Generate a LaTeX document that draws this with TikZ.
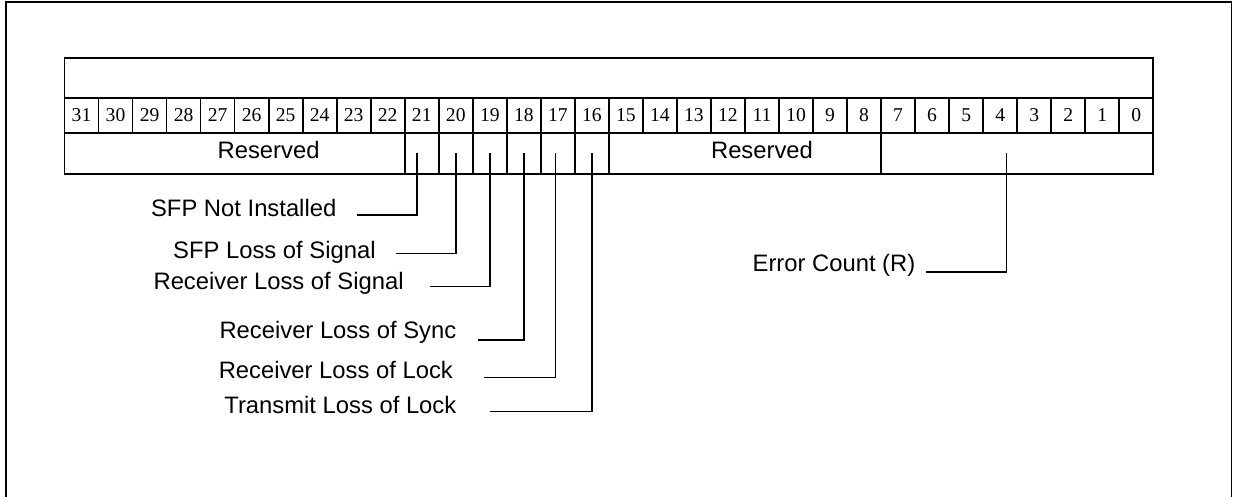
\documentclass[tikz,border=0pt]{standalone}
\usepackage{fontspec}
\setmainfont{Liberation Serif}
\setsansfont{Liberation Sans}
\usetikzlibrary{positioning}

\tikzset{
  regbox/.style={draw,line width=0.85pt,inner sep=0pt},
  bitcell/.style={regbox,minimum width=17.0125pt,minimum height=17.5pt,font=\fontsize{9.8}{10}\selectfont},
  field/.style={regbox,minimum height=20.8pt},
  fname/.style={inner sep=0pt,font=\sffamily\fontsize{11.9}{13}\selectfont},
  lbl/.style={fname,anchor=base east},
  lead/.style={line width=0.75pt},
}

\begin{document}
\begin{tikzpicture}[x=0.5pt,y=-0.5pt]
  \useasboundingbox (0,0) rectangle (1233,497);
  \draw[line width=0.9pt] (5.8,520) |- (1231.5,1.8) -- (1231.5,520);

  \node[regbox,minimum width=544.4pt,minimum height=19.85pt] (hdr) at (608.9,77.85) {};
  \foreach \i in {0,...,31}
    \node[bitcell] (b\i) at ({64.5+(31-\i)*34.025+17.0125},115.2) {\i};

  \node[field,minimum width=170.125pt] (res1) at (234.6,153.5) {};
  \foreach \i in {21,...,16}
    \node[field,minimum width=17.0125pt] (f\i) at ({64.5+(31-\i)*34.025+17.0125},153.5) {};
  \node[field,minimum width=136.1pt] (res2) at (745,153.5) {};
  \node[field,minimum width=136.1pt] (err) at (1017.2,153.5) {};
  \node[fname] (res1t) at ([xshift=17pt,yshift=1.75pt]res1.center) {Reserved};
  \node[fname] (res2t) at ([xshift=8.5pt,yshift=1.75pt]res2.center) {Reserved};

  \node[lbl] (l21) at (336.7,216.7) {SFP Not Installed};
  \node[lbl] (l20) at (376,258.3) {SFP Loss of Signal};
  \node[lbl] (l19) at (404,289.3) {Receiver Loss of Signal};
  \node[lbl] (l18) at (456.7,338.3) {Receiver Loss of Sync};
  \node[lbl] (l17) at (453.3,378.3) {Receiver Loss of Lock};
  \node[lbl] (l16) at (456.7,413.3) {Transmit Loss of Lock};
  \node[lbl] (lerr) at (915.7,271.2) {Error Count (R)};

  \draw[lead] ([xshift=-2.4pt]f21.center) |- ([xshift=10pt,yshift=0.85pt]l21.base east);
  \draw[lead] (f20.center) |- ([xshift=10pt,yshift=2.5pt]l20.base east);
  \draw[lead] (f19.center) |- ([xshift=13pt,yshift=1.3pt]l19.base east);
  \draw[lead] (f18.center) |- ([xshift=10.8pt,yshift=-0.85pt]l18.base east);
  \draw[lead] ([xshift=-1.3pt]f17.center) |- ([xshift=15.35pt,yshift=0.3pt]l17.base east);
  \draw[lead] (f16.center) |- ([xshift=16.65pt,yshift=0.8pt]l16.base east);
  \draw[lead] ([xshift=-5.25pt]err.center) |- ([xshift=5.1pt,yshift=-0.4pt]lerr.base east);
\end{tikzpicture}
\end{document}
